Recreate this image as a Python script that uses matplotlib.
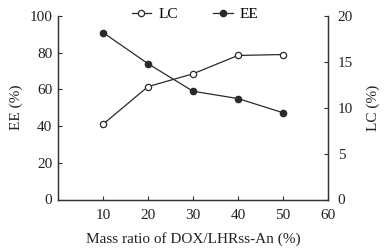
import matplotlib
matplotlib.use("Agg")
import matplotlib.pyplot as plt

plt.rcParams['font.family'] = ['Liberation Serif', 'DejaVu Serif']
plt.rcParams['font.size'] = 11

ratio = [10, 20, 30, 40, 50]
ee = [91, 74, 59, 55, 47.3]
lc = [8.2, 12.3, 13.7, 15.7, 15.8]
x_ticks = [10, 20, 30, 40, 50, 60]

spine_c = '#333333'
line_c = '#2a2a2a'
text_c = '#222222'

fig = plt.figure(figsize=(3.84, 2.48), dpi=100)
ax = fig.add_axes([58/384, 1-199.5/248, (328-58)/384, (199.5-16)/248])
ax2 = ax.twinx()

l_ee, = ax.plot(ratio, ee, '-o', color=line_c, mfc=line_c, mec=line_c, ms=4.5, lw=0.9, label='EE')
l_lc, = ax2.plot(ratio, lc, '-o', color=line_c, mfc='white', mec=line_c, ms=4.5, mew=0.9, lw=0.9, label='LC')

ax.set_xlim(0, 60)
ax.set_ylim(0, 100)
ax2.set_ylim(0, 20)
ax.set_xticks(x_ticks)
ax.set_yticks([0, 20, 40, 60, 80, 100])
ax2.set_yticks([0, 5, 10, 15, 20])

for a in (ax, ax2):
    a.spines['top'].set_visible(False)
    for s in a.spines.values():
        s.set_color(spine_c)
        s.set_linewidth(0.9)
    a.tick_params(direction='in', length=3, width=0.8, color=spine_c, colors=text_c, pad=4)
ax.tick_params(axis='x', pad=7)
ax2.tick_params(axis='y', pad=7)

ax.set_xlabel('Mass ratio of DOX/LHRss-An (%)', color=text_c, labelpad=7)
ax.set_ylabel('EE (%)', color=text_c, labelpad=5)
ax2.set_ylabel('LC (%)', color=text_c, labelpad=10)

leg = fig.legend(handles=[l_lc, l_ee], loc='center', bbox_to_anchor=(195/384, 1-14/248),
                 ncol=2, frameon=False, handlelength=1.3, columnspacing=2.3, handletextpad=0.45,
                 fontsize=11)

fig.savefig('out.png', dpi=100)
